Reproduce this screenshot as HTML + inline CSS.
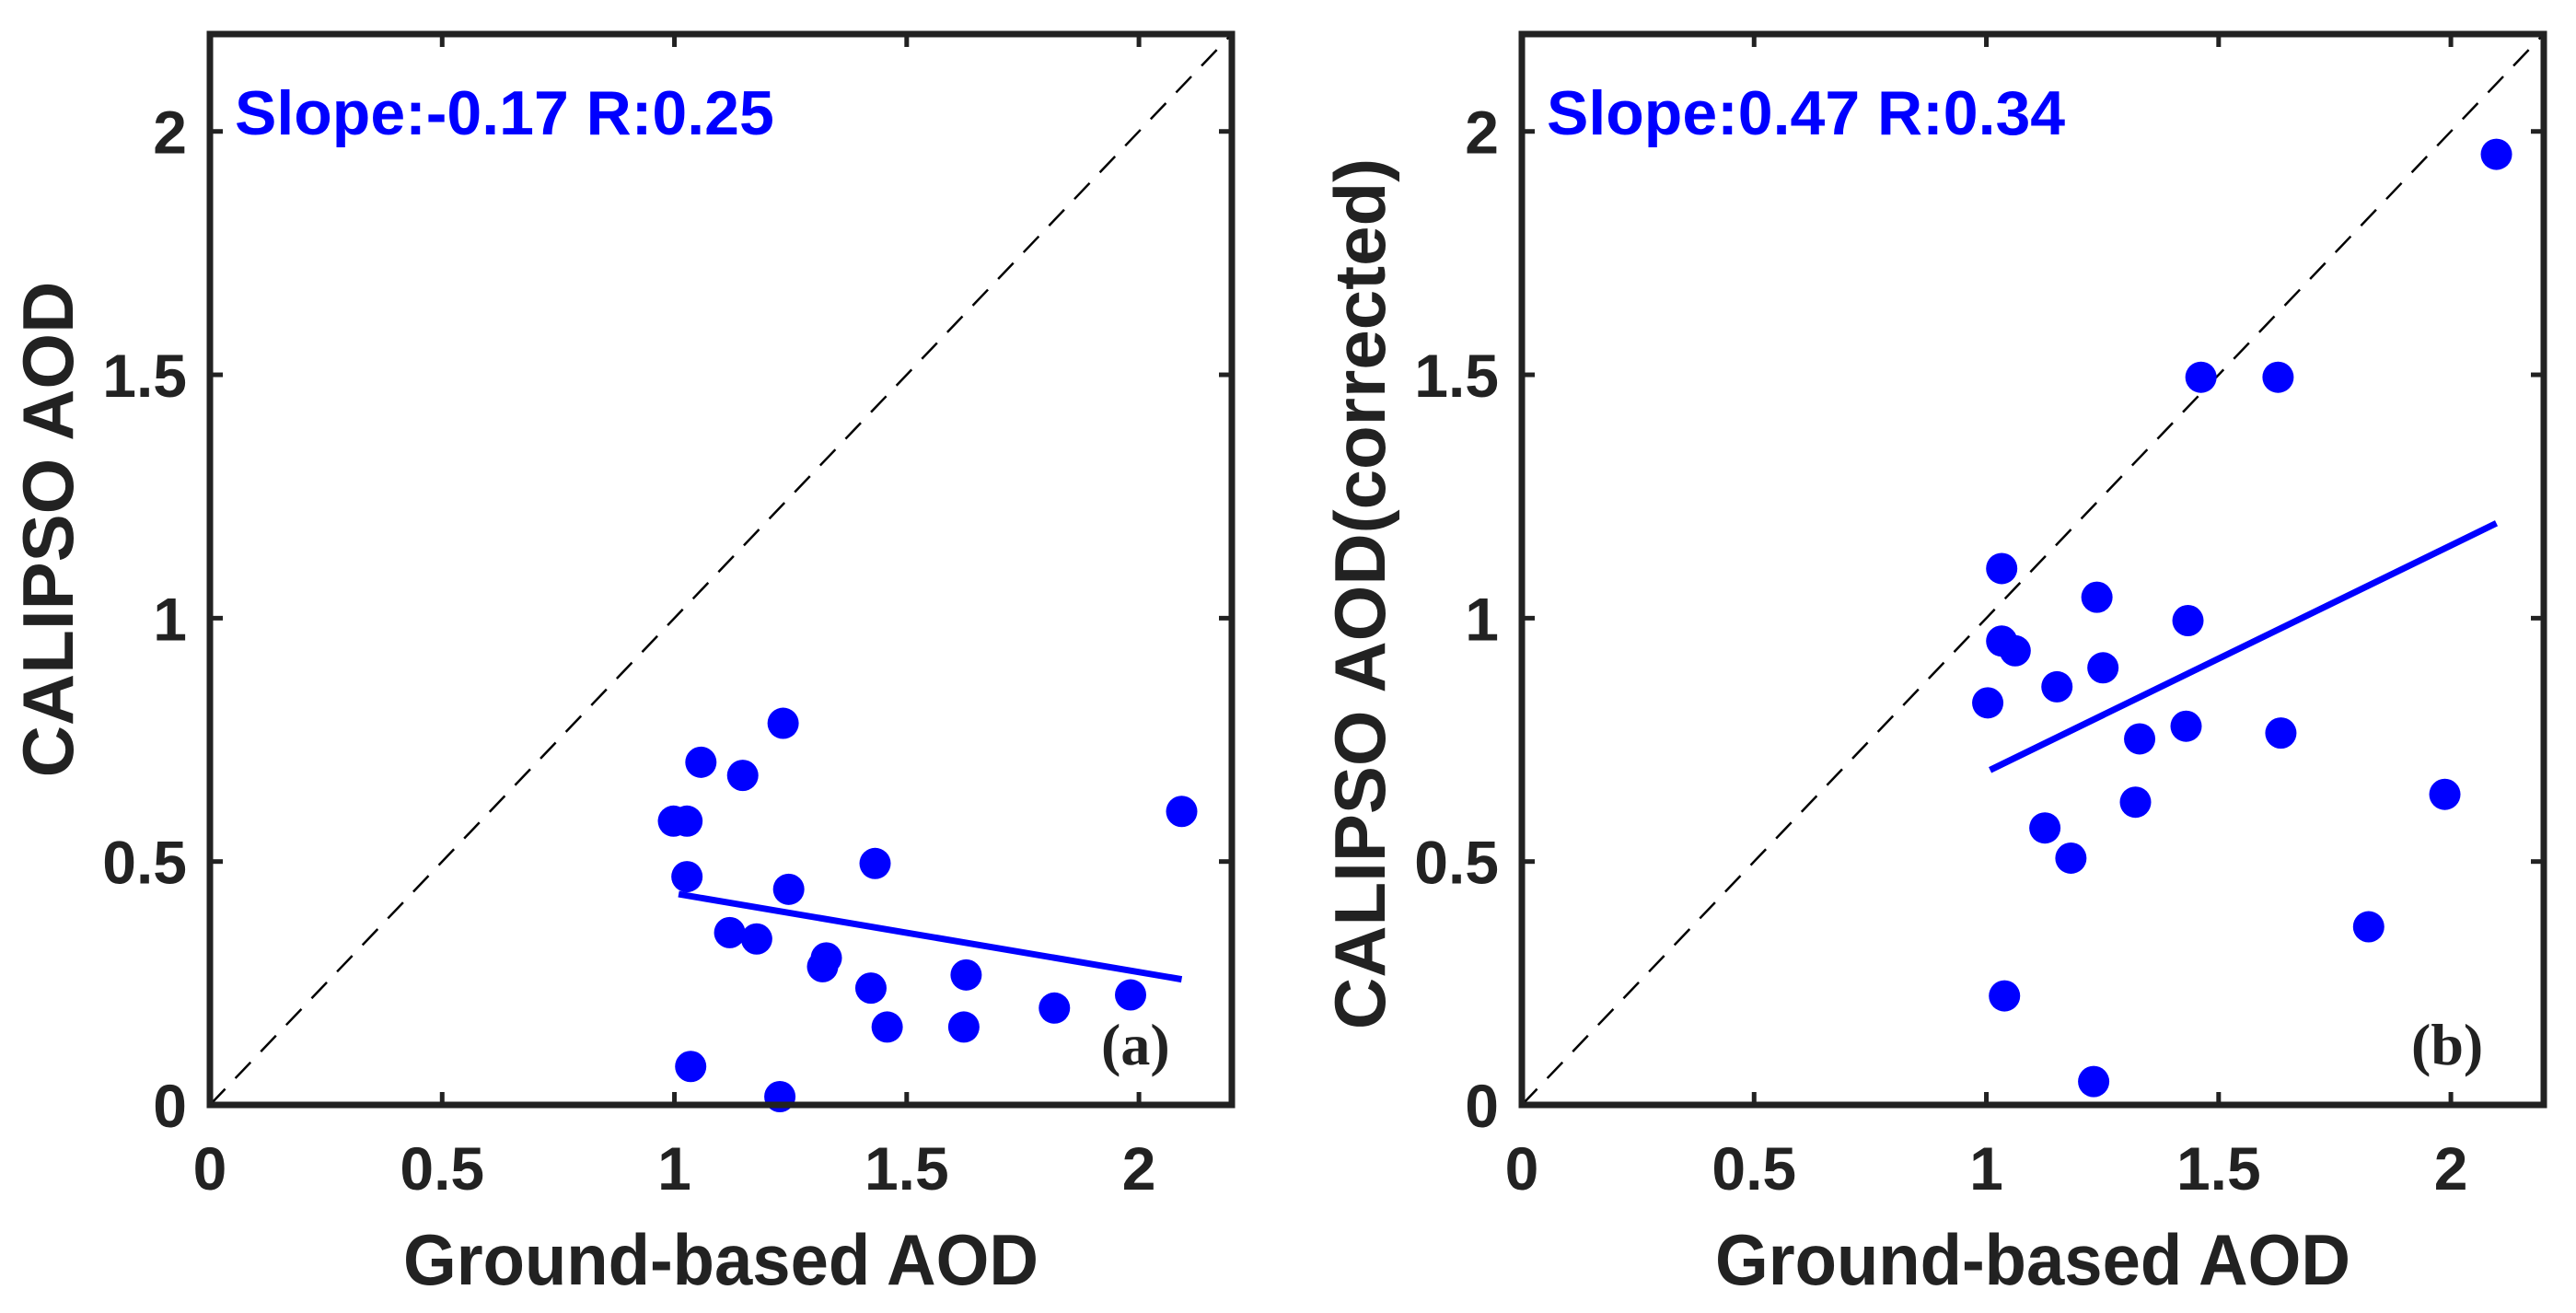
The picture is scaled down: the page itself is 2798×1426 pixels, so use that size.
<!DOCTYPE html>
<html><head><meta charset="utf-8">
<style>
html,body{margin:0;padding:0;background:#fff;}
svg{display:block;}
text{font-family:"Liberation Sans",Arial,sans-serif;}
text.serif{font-family:"Liberation Serif",serif;}
</style></head>
<body>
<svg id="chart" width="2798" height="1426" viewBox="0 0 2798 1426" xmlns="http://www.w3.org/2000/svg"></svg>
<script>
const xTicks = [0, 0.5, 1, 1.5, 2];
const yTicks = [0, 0.5, 1, 1.5, 2];
const xTickLabels = ["0", "0.5", "1", "1.5", "2"];
const yTickLabels = ["0", "0.5", "1", "1.5", "2"];
const aX = [1.234,1.057,1.147,0.998,1.027,2.092,1.432,1.027,1.246,1.119,1.177,1.319,1.327,1.423,1.628,1.982,1.818,1.458,1.623,1.035,1.227];
const aY = [0.784,0.704,0.677,0.583,0.583,0.603,0.496,0.469,0.443,0.354,0.341,0.284,0.302,0.240,0.267,0.226,0.199,0.160,0.160,0.079,0.017];
const aFitX = [1.009, 2.092];
const aFitY = [0.433, 0.258];
const bX = [2.098,1.462,1.628,1.033,1.238,1.434,1.033,1.062,1.251,1.152,1.003,1.430,1.330,1.634,1.321,1.987,1.126,1.182,1.823,1.039,1.231];
const bY = [1.953,1.495,1.495,1.102,1.043,0.995,0.953,0.933,0.898,0.859,0.826,0.778,0.752,0.764,0.622,0.638,0.569,0.507,0.366,0.224,0.048];
const bFitX = [1.008, 2.098];
const bFitY = [0.688, 1.195];

const NS = "http://www.w3.org/2000/svg";
const svg = document.getElementById("chart");
function mk(tag, attrs, parent){
  const e = document.createElementNS(NS, tag);
  for (const k in attrs) e.setAttribute(k, attrs[k]);
  (parent||svg).appendChild(e);
  return e;
}
const XMAX = 2.2, YMAX = 2.2;
function panel(p){
  const L = p.left, R = p.left + 1110, T = 37, B = 1200;
  const sx = v => L + v / XMAX * (R - L);
  const sy = v => B - v / YMAX * (B - T);
  const g = mk("g", {});
  
  
  const d = mk("line", {x1:sx(0), y1:sy(0), x2:sx(2.2), y2:sy(2.2), stroke:"#000", "stroke-width":2.5, "stroke-dasharray":"24 16"}, g);
  
  
  for (let i = 0; i < p.xs.length; i++){
    const c = mk("circle", {cx:sx(p.xs[i]), cy:sy(p.ys[i]), r:17, fill:"#0000ff"}, g);
    
    
  }
  const f = mk("line", {x1:sx(p.fx[0]), y1:sy(p.fy[0]), x2:sx(p.fx[1]), y2:sy(p.fy[1]), stroke:"#0000ff", "stroke-width":7}, g);
  
  
  for (let i = 0; i < xTicks.length; i++){
    const x = sx(xTicks[i]);
    mk("line", {x1:x, y1:B, x2:x, y2:B-14, stroke:"#222", "stroke-width":5}, g);
    mk("line", {x1:x, y1:T, x2:x, y2:T+14, stroke:"#222", "stroke-width":5}, g);
    const t = mk("text", {x:x, y:1292, "text-anchor":"middle", "font-size":66, "font-weight":"bold", fill:"#222"}, g);
    t.textContent = xTickLabels[i];
    
    
  }
  for (let i = 0; i < yTicks.length; i++){
    const y = sy(yTicks[i]);
    mk("line", {x1:L, y1:y, x2:L+14, y2:y, stroke:"#222", "stroke-width":5}, g);
    mk("line", {x1:R, y1:y, x2:R-14, y2:y, stroke:"#222", "stroke-width":5}, g);
    const t = mk("text", {x:L-25, y:y+24, "text-anchor":"end", "font-size":66, "font-weight":"bold", fill:"#222"}, g);
    t.textContent = yTickLabels[i];
    
    
  }
  const fr = mk("rect", {x:L, y:T, width:R-L, height:B-T, fill:"none", stroke:"#222", "stroke-width":7}, g);
  
  
  const s = mk("text", {x:L+27, y:146, "font-size":68, "font-weight":"bold", fill:"#0000ff"}, g);
  s.textContent = p.stat;
  
  
  const pl = mk("text", {x:p.labelX, y:1156, "font-size":64, "font-weight":"bold", "class":"serif", fill:"#222"}, g);
  pl.textContent = p.label;
  
  
  const xt = mk("text", {x:(L+R)/2, y:1395, "text-anchor":"middle", "font-size":78, "font-weight":"bold", fill:"#222", textLength:690, lengthAdjust:"spacingAndGlyphs"}, g);
  xt.textContent = "Ground-based AOD";
  
  
  const yt = mk("text", {x:0, y:0, "text-anchor":"middle", "font-size":78, "font-weight":"bold", fill:"#222", transform:"translate(" + p.yTitleX + "," + p.yTitleY + ") rotate(-90)"}, g);
  yt.textContent = p.yTitle;
  
  
}
panel({name:"panel-a", left:228, xs:aX, ys:aY, fx:aFitX, fy:aFitY, stat:"Slope:-0.17 R:0.25", label:"(a)", labelX:1196, yTitle:"CALIPSO AOD", yTitleX:79, yTitleY:575});
panel({name:"panel-b", left:1653, xs:bX, ys:bY, fx:bFitX, fy:bFitY, stat:"Slope:0.47 R:0.34", label:"(b)", labelX:2619, yTitle:"CALIPSO AOD(corrected)", yTitleX:1504, yTitleY:645});
</script>
</body></html>
